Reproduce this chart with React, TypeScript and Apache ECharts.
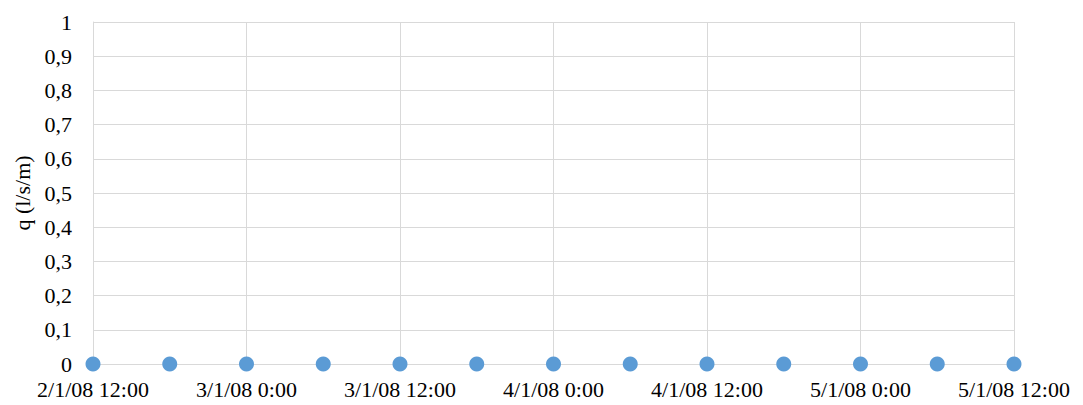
import React, { useEffect, useRef } from "react";
import * as echarts from "echarts";

const hours = [0, 6, 12, 18, 24, 30, 36, 42, 48, 54, 60, 66, 72];
const qValues = [0, 0, 0, 0, 0, 0, 0, 0, 0, 0, 0, 0, 0];
const xTickLabels = ["2/1/08 12:00", "3/1/08 0:00", "3/1/08 12:00", "4/1/08 0:00", "4/1/08 12:00", "5/1/08 0:00", "5/1/08 12:00"];
const yAxisName = "q (l/s/m)";

export default function App() {
  const ref = useRef<HTMLDivElement>(null);
  useEffect(() => {
    const chart = echarts.init(ref.current!, null, { renderer: "svg" });
    const font = "Liberation Serif";
    const fs = 22;
    chart.setOption({
      animation: false,
      textStyle: { fontFamily: font, fontSize: fs },
      grid: { left: 93, right: 69, top: 22, bottom: 41, containLabel: false },
      xAxis: {
        type: "value",
        min: 0,
        max: 72,
        interval: 12,
        axisLine: { show: true, lineStyle: { color: "#d9d9d9", width: 1 } },
        axisTick: { show: false },
        splitLine: { show: true, lineStyle: { color: "#d9d9d9", width: 1 } },
        axisLabel: {
          color: "#000",
          fontSize: fs,
          fontFamily: font,
          margin: 14,
          showMinLabel: true,
          showMaxLabel: true,
          formatter: (v: number) => xTickLabels[Math.round(v / 12)] ?? "",
        },
      },
      yAxis: {
        type: "value",
        min: 0,
        max: 1,
        interval: 0.1,
        name: yAxisName,
        nameLocation: "middle",
        nameGap: 58,
        nameTextStyle: { color: "#000", fontSize: fs, fontFamily: font },
        axisLine: { show: true, lineStyle: { color: "#d9d9d9", width: 1 } },
        axisTick: { show: false },
        splitLine: { show: true, lineStyle: { color: "#d9d9d9", width: 1 } },
        axisLabel: {
          color: "#000",
          fontSize: fs,
          fontFamily: font,
          margin: 21,
          formatter: (v: number) => {
            const r = Math.round(v * 10) / 10;
            return String(r).replace(".", ",");
          },
        },
      },
      series: [
        {
          type: "scatter",
          data: hours.map((h, i) => [h, qValues[i]]),
          symbol: "circle",
          symbolSize: 15,
          itemStyle: { color: "#5b9bd5", opacity: 1 },
        },
      ],
    });
    return () => chart.dispose();
  }, []);
  return (
    <div
      ref={ref}
      style={{ position: "absolute", left: 0, top: 0, width: 1083, height: 405, background: "#fff" }}
    />
  );
}
